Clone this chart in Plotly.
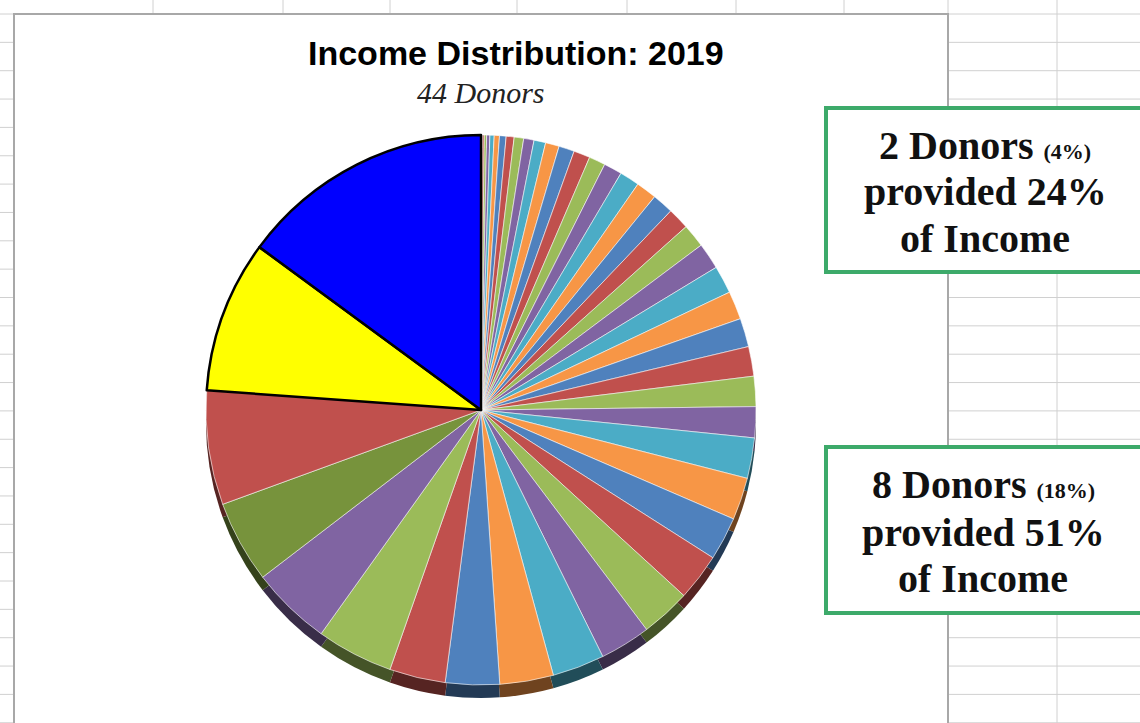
import plotly.graph_objects as go

# ---------------- data ----------------
# share of 2019 income per donor (percent), ascending, 44 donors
donor_share = [
    0.08, 0.11, 0.14, 0.19, 0.25, 0.31, 0.39, 0.47, 0.56, 0.61, 0.69, 0.81, 0.92, 0.97,
    0.97, 1.08, 1.17, 1.22, 1.25, 1.28, 1.39, 1.56, 1.64, 1.67, 1.69, 1.75, 1.78, 1.83,
    2.39, 2.50, 2.56, 2.78, 2.94, 3.00, 3.08, 3.17,
    3.19, 3.31, 4.53, 4.75, 4.86, 6.75, 9.00, 15.00,
]
donor_labels = [f"Donor {i + 1}" for i in range(len(donor_share))]

palette = ["#4F81BD", "#C0504D", "#9BBB59", "#8064A2", "#4BACC6", "#F79646"]
color_overrides = {40: "#77933C", 41: "#C0504D", 42: "#FFFF00", 43: "#0000FF"}
highlight_slices = [42, 43]

title_text = "Income Distribution: 2019"
subtitle_text = "44 Donors"
box1_lines = ["2 Donors <span style='font-size:22px'>(4%)</span>", "provided 24%", "of Income"]
box2_lines = ["8 Donors <span style='font-size:22px'>(18%)</span>", "provided 51%", "of Income"]

# ---------------- styling helpers ----------------
W, H = 1140, 723


def px_x(x):
    return x / W


def px_y(y):
    return 1 - y / H


def darken(hx, f=0.45):
    hx = hx.lstrip("#")
    r, g, b = (int(hx[i:i + 2], 16) for i in (0, 2, 4))
    return "#%02x%02x%02x" % (int(r * f), int(g * f), int(b * f))


slice_colors = [color_overrides.get(i, palette[i % 6]) for i in range(len(donor_share))]
side_colors = [darken(c) for c in slice_colors]
line_colors = ["#000000" if i in highlight_slices else "rgba(255,255,255,0.75)"
               for i in range(len(donor_share))]
line_widths = [2.5 if i in highlight_slices else 0.8 for i in range(len(donor_share))]

cx, cy, r = 481, 410, 275
depth = 13

fig = go.Figure()
# side (3D thickness) of pie
fig.add_trace(go.Pie(
    labels=donor_labels, values=donor_share, sort=False, direction="clockwise", rotation=0,
    marker=dict(colors=side_colors, line=dict(width=0)),
    textinfo="none", hoverinfo="skip", showlegend=False,
    domain=dict(x=[px_x(cx - r), px_x(cx + r)], y=[px_y(cy + depth + r), px_y(cy + depth - r)]),
))
# top face
fig.add_trace(go.Pie(
    labels=donor_labels, values=donor_share, sort=False, direction="clockwise", rotation=0,
    marker=dict(colors=slice_colors, line=dict(color=line_colors, width=line_widths)),
    textinfo="none", hoverinfo="label+percent", showlegend=False,
    domain=dict(x=[px_x(cx - r), px_x(cx + r)], y=[px_y(cy + r), px_y(cy - r)]),
))

shapes = []
grid_col = "#D0D0D0"
row_ys = [14 + 28.35 * k for k in range(26)]
col_xs = [153, 283, 390, 517, 627, 736, 844, 948, 1057]
for y in row_ys:
    shapes.append(dict(type="line", xref="paper", yref="paper", x0=0, x1=1,
                       y0=px_y(y), y1=px_y(y), line=dict(color=grid_col, width=1), layer="below"))
for x in col_xs:
    shapes.append(dict(type="line", xref="paper", yref="paper", x0=px_x(x), x1=px_x(x),
                       y0=0, y1=1, line=dict(color=grid_col, width=1), layer="below"))
# chart area
shapes.append(dict(type="rect", xref="paper", yref="paper", x0=px_x(14), x1=px_x(948),
                   y0=px_y(740), y1=px_y(14), fillcolor="white",
                   line=dict(color="#A8A8A8", width=2), layer="below"))
# callout boxes
for (y0, y1) in [(108, 272), (447, 613)]:
    shapes.append(dict(type="rect", xref="paper", yref="paper", x0=px_x(826), x1=px_x(1150),
                       y0=px_y(y1), y1=px_y(y0), fillcolor="white",
                       line=dict(color="#3DAA6A", width=4), layer="above"))

annotations = [
    dict(text=f"<b>{title_text}</b>", x=px_x(516), y=px_y(53), xref="paper", yref="paper",
         showarrow=False, xanchor="center", yanchor="middle",
         font=dict(family="Liberation Sans", size=34, color="#000000")),
    dict(text=f"<i>{subtitle_text}</i>", x=px_x(481), y=px_y(92), xref="paper", yref="paper",
         showarrow=False, xanchor="center", yanchor="middle",
         font=dict(family="Liberation Serif", size=30, color="#222222")),
]
for lines, baselines, xc in [(box1_lines, [159, 205, 252], 985), (box2_lines, [498, 545, 591], 983)]:
    for t, b in zip(lines, baselines):
        annotations.append(dict(text=f"<b>{t}</b>", x=px_x(xc), y=px_y(b - 13), xref="paper",
                                yref="paper", showarrow=False, xanchor="center", yanchor="middle",
                                font=dict(family="Liberation Serif", size=40, color="#111111")))

fig.update_layout(
    width=W, height=H, margin=dict(l=0, r=0, t=0, b=0),
    paper_bgcolor="white", plot_bgcolor="white",
    shapes=shapes, annotations=annotations,
)
fig.write_html("out.html")
